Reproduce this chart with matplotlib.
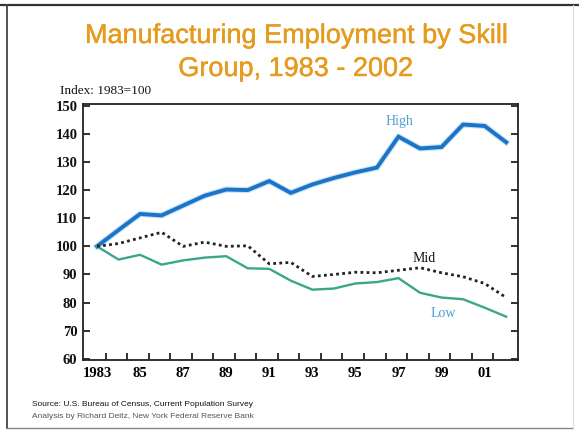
import matplotlib
matplotlib.use("Agg")
import matplotlib.pyplot as plt
from matplotlib.lines import Line2D
import matplotlib.patheffects as pe
import numpy as np

years = list(range(1983, 2003))
high = [100, 105.8, 111.5, 111, 114.5, 118, 120.2, 120, 123.2, 119, 122, 124.3, 126.3, 128, 139, 134.8, 135.3, 143.3, 142.8, 137]
mid = [100, 101, 103, 105, 100, 101.5, 100, 100.2, 93.8, 94.3, 89.3, 90, 90.8, 90.6, 91.5, 92.4, 90.6, 89.2, 86.8, 81.8]
low = [100, 95.3, 97, 93.5, 95, 96, 96.5, 92.2, 92, 87.8, 84.6, 85, 86.8, 87.3, 88.7, 83.5, 81.8, 81.2, 78.2, 75]
xtick_years = [1983, 1985, 1987, 1989, 1991, 1993, 1995, 1997, 1999, 2001]
xtick_labels = ["1983", "85", "87", "89", "91", "93", "95", "97", "99", "01"]
yticks = [60, 70, 80, 90, 100, 110, 120, 130, 140, 150]

W, H = 579, 432
fig = plt.figure(figsize=(W / 100, H / 100), dpi=100)
fig.patch.set_facecolor("white")

# frame around the slide
def px(x, y):
    return x / W, 1 - y / H
fig.add_artist(Line2D([0, 1], [px(0, 5)[1]] * 2, color="#333333", lw=1.6))
fig.add_artist(Line2D([px(7, 0)[0]] * 2, [px(0, 5)[1], px(0, 428)[1]], color="#444444", lw=1.3))
fig.add_artist(Line2D([px(7, 0)[0], px(573, 0)[0]], [px(0, 428)[1]] * 2, color="#888888", lw=1.0))
fig.add_artist(Line2D([px(573, 0)[0]] * 2, [px(0, 5)[1], px(0, 428)[1]], color="#dddddd", lw=0.8))

# title
title_fx = [pe.withStroke(linewidth=0.3, foreground="#E69A1E")]
fig.text(297 / W, px(0, 36)[1], "Manufacturing Employment by Skill", ha="center", va="center",
         fontsize=19.5, color="#E69A1E", family="Liberation Sans", path_effects=title_fx)
fig.text(296 / W, px(0, 69)[1], "Group, 1983 - 2002", ha="center", va="center",
         fontsize=19.5, color="#E69A1E", family="Liberation Sans", path_effects=title_fx)

ax = fig.add_axes([83 / W, 1 - 360 / H, (518 - 83) / W, (360 - 104) / H])
ax.set_xlim(1982.35, 2002.55)
ax.set_ylim(59.6, 150.6)

# lines
ax.plot(years, high, color="#9fd0f0", lw=4.4, solid_joinstyle="round", alpha=0.6)
ax.plot(years, high, color="#1c74c9", lw=2.8, solid_joinstyle="miter")
ax.plot(years, low, color="#3aa68c", lw=1.7)
ax.plot(years, mid, color="#222222", lw=2.0, linestyle=(0, (1, 1.2)))

ax.text(1997.05, 144.3, "High", color="#4d9fd6", fontsize=10, family="Liberation Serif", ha="center", va="center")
ax.text(1998.2, 95.8, "Mid", color="#111111", fontsize=10, family="Liberation Serif", ha="center", va="center")
ax.text(1999.1, 76.2, "Low", color="#4d9fd6", fontsize=10, family="Liberation Serif", ha="center", va="center")

for s in ax.spines.values():
    s.set_linewidth(1.3)
    s.set_color("#222222")

# x ticks: labels at years, tick marks in between
ax.set_xticks(xtick_years)
ax.set_xticklabels(xtick_labels, family="Liberation Serif", fontsize=10.5, fontweight="bold")
ax.tick_params(axis="x", length=0, pad=5)
ax.set_xticks([y + 0.4 for y in range(1983, 2002)], minor=True)
ax.tick_params(axis="x", which="minor", direction="in", length=5, width=1.3, colors="#222222")

ax.set_yticks(yticks)
ax.set_yticklabels([str(v) for v in yticks], family="Liberation Serif", fontsize=10.5, fontweight="bold")
ax.tick_params(axis="y", direction="in", length=5, width=1.3, right=True, pad=4, colors="#222222")
ax.tick_params(axis="y", labelcolor="#111111")

fig.text(60 / W, px(0, 91)[1], "Index: 1983=100", fontsize=9.5, family="Liberation Serif",
         ha="left", va="center", color="#111111")

fig.text(32 / W, px(0, 405)[1], "Source: U.S. Bureau of Census, Current Population Survey",
         fontsize=6, family="Liberation Sans", ha="left", va="center", color="#111111")
fig.text(32 / W, px(0, 417)[1], "Analysis by Richard Deitz, New York Federal Reserve Bank",
         fontsize=6, family="Liberation Sans", ha="left", va="center", color="#555555")

fig.savefig("out.png", dpi=100)
